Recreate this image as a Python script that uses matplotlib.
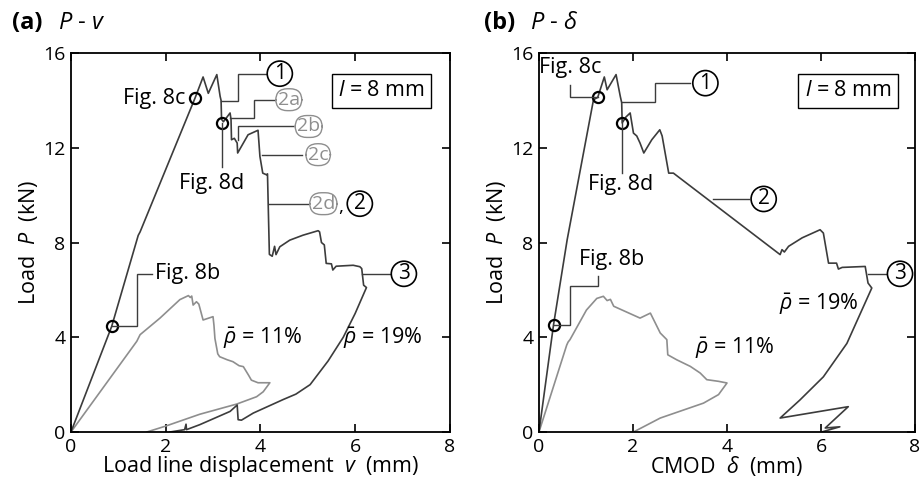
import matplotlib
matplotlib.use("Agg")
import matplotlib.pyplot as plt

plt.rcParams['font.family'] = ['Open Sans', 'DejaVu Sans']
plt.rcParams['mathtext.fontset'] = 'custom'
plt.rcParams['mathtext.rm'] = 'Open Sans'
plt.rcParams['mathtext.it'] = 'Open Sans:italic'

# ---- data ----
# (a) load vs load line displacement
va_19 = [0, 0.86, 1.42, 1.46, 2.62, 2.79, 2.9, 3.08, 3.15, 3.17, 3.18, 3.22, 3.36, 3.38, 3.39,
         3.45, 3.51, 3.52, 3.74, 3.95, 3.97, 3.99, 4.05, 4.13, 4.15, 4.19, 4.25, 4.3, 4.33, 4.41,
         4.62, 4.9, 5.22, 5.25, 5.29, 5.35, 5.39, 5.5, 5.53, 5.6, 5.96, 6.1, 6.14, 6.18, 6.24, 6.0,
         5.75, 5.43, 5.05, 4.75, 4.48, 3.85, 3.6, 3.53, 3.51, 3.36, 2.72, 2.44, 2.43, 2.4, 2.09]
Pa_19 = [0, 4.46, 8.3, 8.45, 14.1, 14.99, 14.3, 15.09, 14.17, 14.0, 13.2, 13.1, 13.47, 13.2, 12.34,
         12.4, 12.2, 11.78, 12.55, 12.74, 12.2, 11.64, 10.93, 10.86, 10.9, 7.5, 7.42, 7.84, 7.49, 7.82,
         8.1, 8.31, 8.5, 8.45, 8.0, 7.9, 7.12, 7.1, 6.84, 7.0, 7.04, 6.98, 6.9, 6.2, 6.1, 5.0,
         4.0, 3.0, 2.0, 1.6, 1.37, 0.8, 0.5, 0.52, 1.14, 0.87, 0.31, 0.1, 0.33, 0.1, 0.0]
va_11 = [0, 1.39, 1.42, 1.46, 1.88, 2.3, 2.48, 2.52, 2.55, 2.58, 2.65, 2.7, 2.79, 3.0, 3.02, 3.04,
         3.1, 3.14, 3.3, 3.42, 3.55, 3.64, 3.75, 3.81, 3.95, 4.2, 4.06, 3.92, 3.5, 2.72, 2.0, 1.6]
Pa_11 = [0, 3.83, 3.95, 4.11, 4.81, 5.59, 5.76, 5.68, 5.74, 5.36, 5.5, 5.4, 4.73, 4.87, 4.5, 3.95,
         3.3, 3.18, 3.05, 2.97, 2.8, 2.76, 2.4, 2.19, 2.08, 2.08, 1.7, 1.49, 1.18, 0.75, 0.25, 0.0]

# (b) load vs CMOD
db_19 = [0, 0.31, 0.6, 1.16, 1.25, 1.39, 1.45, 1.64, 1.73, 1.76, 1.77, 1.85, 1.94, 2.01, 2.08, 2.15,
         2.23, 2.4, 2.57, 2.62, 2.76, 2.86, 5.13, 5.17, 5.22, 5.31, 5.6, 5.98, 6.05, 6.16, 6.33, 6.37,
         6.45, 6.94, 7.0, 7.08, 6.55, 6.05, 5.55, 5.13, 6.58, 6.09, 6.4, 6.01]
Pb_19 = [0, 4.53, 8.12, 14.03, 14.13, 14.99, 14.45, 15.09, 14.17, 13.9, 13.05, 13.3, 13.47, 12.62, 12.5,
         12.2, 11.78, 12.34, 12.76, 12.5, 10.93, 10.93, 7.49, 7.7, 7.6, 7.84, 8.2, 8.54, 8.4, 7.13, 7.13,
         6.88, 6.95, 6.99, 6.29, 6.08, 3.74, 2.33, 1.35, 0.59, 1.07, 0.17, 0.22, 0.0]
db_11 = [0, 0.59, 0.62, 0.66, 1.01, 1.23, 1.37, 1.45, 1.52, 1.59, 2.15, 2.37, 2.58, 2.72, 2.74, 2.93,
         3.22, 3.43, 3.57, 3.82, 4.0, 3.82, 3.5, 2.58, 2.01]
Pb_11 = [0, 3.67, 3.8, 3.9, 5.15, 5.64, 5.73, 5.55, 5.6, 5.31, 4.81, 5.02, 4.18, 3.9, 3.26, 3.05,
         2.77, 2.49, 2.21, 2.14, 2.07, 1.58, 1.22, 0.59, 0.0]

# marked states (Fig. 8b, 8c, 8d)
va_marks = [0.86, 2.62, 3.2]
Pa_marks = [4.46, 14.1, 13.05]
db_marks = [0.31, 1.25, 1.76]
Pb_marks = [4.53, 14.13, 13.05]

DARK = '#3c3c3c'
GRAY = '#8e8e8e'
LW = 1.2
FS = 13     # tick labels
TFS = 15.5  # annotation / label text


def setup(ax, xlabel):
    ax.set_xlim(0, 8)
    ax.set_ylim(0, 16)
    ax.set_xticks([0, 2, 4, 6, 8])
    ax.set_yticks([0, 4, 8, 12, 16])
    ax.tick_params(direction='in', top=True, right=True, length=6, width=1.2,
                   labelsize=FS + 1, pad=4)
    for s in ax.spines.values():
        s.set_linewidth(1.3)
    ax.set_xlabel(xlabel, fontsize=TFS, labelpad=-1)
    ax.set_ylabel('Load  $P$  (kN)', fontsize=TFS, labelpad=2)


def leader(ax, xs, ys):
    ax.plot(xs, ys, color=DARK, lw=1.0, solid_joinstyle='miter')


def circ(ax, x, y, s, gray=False):
    if gray:
        ax.text(x, y, s, fontsize=FS + 1, color=GRAY, ha='center', va='center',
                bbox=dict(boxstyle='round,pad=0.1,rounding_size=0.6', fc='white', ec=GRAY, lw=1.0))
    else:
        ax.text(x, y, s, fontsize=FS + 2, color='black', ha='center', va='center',
                bbox=dict(boxstyle='circle,pad=0.1', fc='white', ec='black', lw=1.2))


fig = plt.figure(figsize=(9.24, 4.84), dpi=100)
axa = fig.add_axes([0.0768, 0.1074, 0.410, 0.783])
axb = fig.add_axes([0.5833, 0.1074, 0.407, 0.783])

# ---------------- (a) ----------------
axa.plot(va_11, Pa_11, color=GRAY, lw=LW)
axa.plot(va_19, Pa_19, color=DARK, lw=LW)
axa.plot(va_marks, Pa_marks, 'o', ms=8, mfc='none', mec='black', mew=1.6)
setup(axa, 'Load line displacement  $v$  (mm)')

axa.text(2.41, 14.1, 'Fig. 8c', fontsize=TFS, ha='right', va='center')
leader(axa, [3.2, 3.2], [13.05, 11.2])
axa.text(2.97, 10.5, 'Fig. 8d', fontsize=TFS, ha='center', va='center')
leader(axa, [0.86, 1.4, 1.4, 1.72], [4.46, 4.46, 6.68, 6.68])
axa.text(1.78, 6.68, 'Fig. 8b', fontsize=TFS, ha='left', va='center')

leader(axa, [3.17, 3.53, 3.53, 4.13], [13.96, 13.96, 15.13, 15.13])
circ(axa, 4.41, 15.13, '1')
leader(axa, [3.36, 3.86, 3.86, 4.31], [13.26, 13.26, 14.03, 14.03])
circ(axa, 4.6, 14.03, '2a', gray=True)
leader(axa, [3.53, 3.53, 4.68], [12.34, 12.9, 12.9])
circ(axa, 5.02, 12.9, '2b', gray=True)
leader(axa, [4.03, 4.88], [11.71, 11.71])
circ(axa, 5.22, 11.71, '2c', gray=True)
leader(axa, [4.19, 5.0], [9.64, 9.64])
circ(axa, 5.33, 9.64, '2d', gray=True)
axa.text(5.7, 9.5, ',', fontsize=FS + 1, ha='center', va='center')
circ(axa, 6.1, 9.64, '2')
leader(axa, [6.14, 6.78], [6.68, 6.68])
circ(axa, 7.03, 6.68, '3')

axa.text(6.56, 14.4, '$l$ = 8 mm', fontsize=TFS, ha='center', va='center',
         bbox=dict(boxstyle='square,pad=0.3', fc='white', ec='black', lw=1.0))
axa.text(4.06, 3.97, r'$\bar{\rho}$ = 11%', fontsize=TFS, ha='center', va='center')
axa.text(6.59, 3.97, r'$\bar{\rho}$ = 19%', fontsize=TFS, ha='center', va='center')

# ---------------- (b) ----------------
axb.plot(db_11, Pb_11, color=GRAY, lw=LW)
axb.plot(db_19, Pb_19, color=DARK, lw=LW)
axb.plot(db_marks, Pb_marks, 'o', ms=8, mfc='none', mec='black', mew=1.6)
setup(axb, r'CMOD  $\delta$  (mm)')

leader(axb, [1.25, 0.65, 0.65], [14.13, 14.13, 14.66])
axb.text(0.67, 15.37, 'Fig. 8c', fontsize=TFS, ha='center', va='center')
leader(axb, [1.76, 1.76], [13.05, 10.93])
axb.text(1.73, 10.44, 'Fig. 8d', fontsize=TFS, ha='center', va='center')
leader(axb, [0.31, 0.67, 0.67, 1.25, 1.25], [4.53, 4.53, 6.18, 6.18, 6.57])
axb.text(1.55, 7.28, 'Fig. 8b', fontsize=TFS, ha='center', va='center')

leader(axb, [1.76, 2.47, 2.47, 3.22], [13.92, 13.92, 14.73, 14.73])
circ(axb, 3.54, 14.73, '1')
leader(axb, [3.71, 4.46], [9.84, 9.84])
circ(axb, 4.78, 9.84, '2')
leader(axb, [7.01, 7.38], [6.68, 6.68])
circ(axb, 7.68, 6.68, '3')

axb.text(6.58, 14.4, '$l$ = 8 mm', fontsize=TFS, ha='center', va='center',
         bbox=dict(boxstyle='square,pad=0.3', fc='white', ec='black', lw=1.0))
axb.text(4.17, 3.55, r'$\bar{\rho}$ = 11%', fontsize=TFS, ha='center', va='center')
axb.text(5.95, 5.38, r'$\bar{\rho}$ = 19%', fontsize=TFS, ha='center', va='center')

# panel titles
fig.text(0.013, 0.952, '(a)', fontsize=17, fontweight='bold', va='center')
fig.text(0.063, 0.952, '$P$ - $v$', fontsize=17, va='center')
fig.text(0.524, 0.952, '(b)', fontsize=17, fontweight='bold', va='center')
fig.text(0.574, 0.952, r'$P$ - $\delta$', fontsize=17, va='center')

fig.savefig('out.png', dpi=100)
